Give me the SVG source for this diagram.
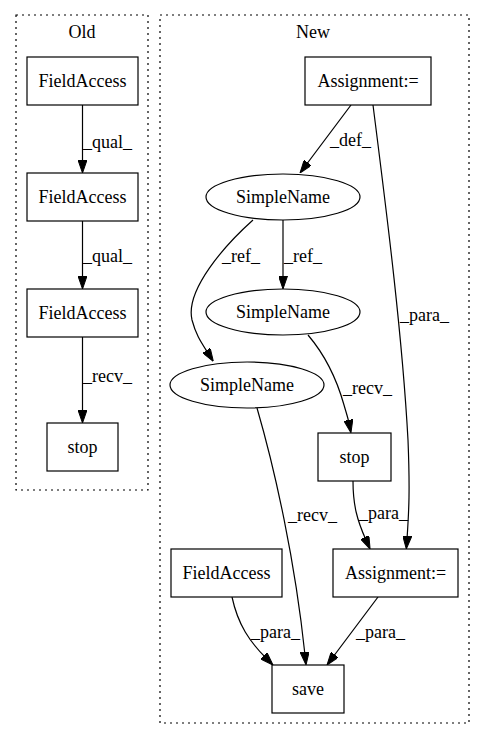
<svg xmlns="http://www.w3.org/2000/svg" width="485" height="740" viewBox="0 0 485 740" font-family="'Liberation Serif','Times New Roman',serif">
<style>
text{font-family:"Liberation Serif","Times New Roman",serif;font-size:18px;fill:#000}
.c{fill:none;stroke:#000;stroke-width:1.2;stroke-dasharray:2,4}
.n{fill:#fff;stroke:#000;stroke-width:1.2}
.m{text-anchor:middle}
.e{fill:none;stroke:#000;stroke-width:1.2;marker-end:url(#a)}
</style>
<defs>
<marker id="a" viewBox="0 0 13 9" refX="3" refY="4.5" markerWidth="13" markerHeight="9" orient="auto" markerUnits="userSpaceOnUse">
<path d="M0,0 L13,4.5 L0,9 z" fill="#000" stroke="#000" stroke-width="1"/>
</marker>
</defs>
<rect width="485" height="740" fill="#fff"/>
<g id="cluster_old">
<rect class="c" x="16" y="15" width="132" height="475"/>
<text class="m" x="82" y="38">Old</text>
</g>
<g id="cluster_new">
<rect class="c" x="160" y="15" width="309" height="708"/>
<text class="m" x="313" y="38">New</text>
</g>
<g id="edges">
<path class="e" d="M82.5,105 L82.5,163"/>
<text x="83" y="148">_qual_</text>
<path class="e" d="M82.5,221 L82.5,279"/>
<text x="83" y="262">_qual_</text>
<path class="e" d="M82.5,337 L82.5,413"/>
<text x="83" y="382">_recv_</text>
<path class="e" d="M351,105 L306,165"/>
<text x="330" y="146">_def_</text>
<path class="e" d="M283,220 L283,279"/>
<text x="284" y="262">_ref_</text>
<path class="e" d="M253,220 C225,245 185,290 192,320 C196,335 201,342 208,353"/>
<text x="222" y="262">_ref_</text>
<path class="e" d="M308,335 C325,355 337,380 344,405 C346,412 348,418 349,423"/>
<text x="343" y="394">_recv_</text>
<path class="e" d="M373,105 C385,200 402,330 408,440 C410,490 409,510 407,539"/>
<text x="400" y="321">_para_</text>
<path class="e" d="M353,481 C353,505 357,520 366,540"/>
<text x="359" y="519">_para_</text>
<path class="e" d="M257,408 C275,470 295,560 305,655"/>
<text x="288" y="521">_recv_</text>
<path class="e" d="M232,597 C238,625 250,642 266,658"/>
<text x="251" y="638">_para_</text>
<path class="e" d="M378,597 L333,657"/>
<text x="356" y="638">_para_</text>
</g>
<g id="old_fa1"><rect class="n" x="27" y="57" width="111" height="48"/><text class="m" x="82.5" y="87">FieldAccess</text></g>
<g id="old_fa2"><rect class="n" x="27" y="173" width="111" height="48"/><text class="m" x="82.5" y="203">FieldAccess</text></g>
<g id="old_fa3"><rect class="n" x="27" y="289" width="111" height="48"/><text class="m" x="82.5" y="319">FieldAccess</text></g>
<g id="old_stop"><rect class="n" x="47" y="423" width="71" height="48"/><text class="m" x="82.5" y="453">stop</text></g>
<g id="new_assign1"><rect class="n" x="305" y="57" width="126" height="48"/><text class="m" x="368" y="87">Assignment:=</text></g>
<g id="new_sn1"><ellipse class="n" cx="283" cy="197" rx="77" ry="23"/><text class="m" x="283" y="203">SimpleName</text></g>
<g id="new_sn2"><ellipse class="n" cx="283" cy="312" rx="77" ry="23"/><text class="m" x="283" y="318">SimpleName</text></g>
<g id="new_sn3"><ellipse class="n" cx="247" cy="385" rx="77" ry="23"/><text class="m" x="247" y="391">SimpleName</text></g>
<g id="new_stop"><rect class="n" x="318" y="433" width="73" height="48"/><text class="m" x="354.5" y="463">stop</text></g>
<g id="new_fa"><rect class="n" x="171" y="549" width="111" height="48"/><text class="m" x="226.5" y="579">FieldAccess</text></g>
<g id="new_assign2"><rect class="n" x="333" y="549" width="125" height="48"/><text class="m" x="395.5" y="579">Assignment:=</text></g>
<g id="new_save"><rect class="n" x="272" y="665" width="72" height="48"/><text class="m" x="308" y="695">save</text></g>
</svg>
